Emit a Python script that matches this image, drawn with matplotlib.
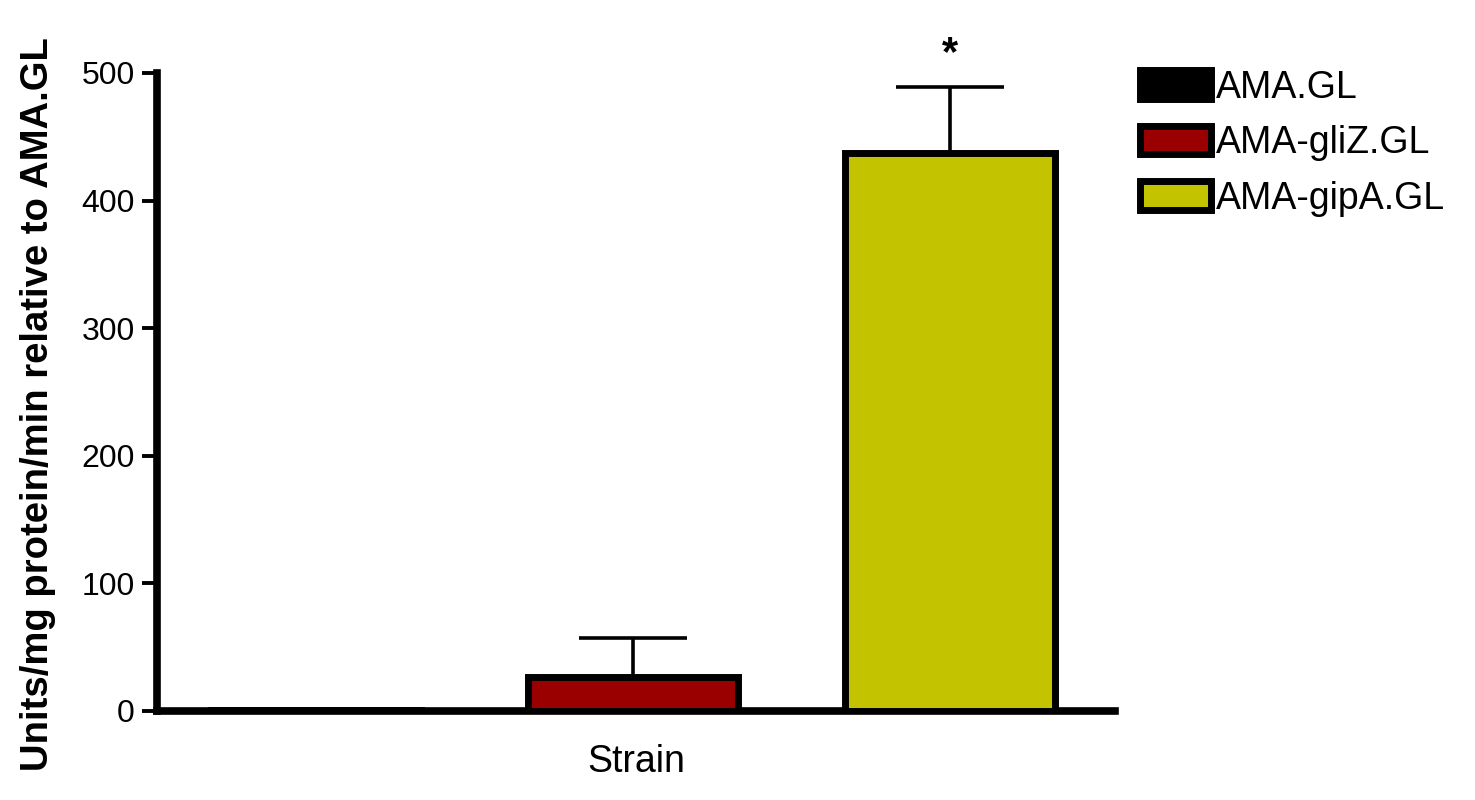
import numpy as np
import matplotlib.pyplot as plt
from matplotlib.patches import Patch

plt.rcParams['font.family'] = ['Liberation Sans', 'DejaVu Sans']

# dados
strains = ["AMA.GL", "AMA-gliZ.GL", "AMA-gipA.GL"]
values = [1, 27, 437]
errors = [0, 30, 52]
colors = ["#000000", "#9b0000", "#c3c300"]
signif = ["", "", "*"]

fig = plt.figure(figsize=(14.75, 8), dpi=100)
ax = fig.add_axes([0.1064, 0.11125, 0.6495, 0.7975])

x = np.arange(len(strains))
ax.bar(x, values, width=0.662, color=colors, edgecolor="black", linewidth=5, zorder=3)
for xi, v, e, s in zip(x, values, errors, signif):
    if e > 0:
        ax.errorbar(xi, v, yerr=[[0], [e]], fmt="none", ecolor="black",
                    elinewidth=2.6, capsize=39, capthick=2.6, zorder=2)
    if s:
        ax.text(xi, v + e + 10, s, ha="center", va="bottom", fontsize=30, fontweight="bold")

ax.set_xlim(-0.5, 2.52)
ax.set_ylim(0, 500)
ax.set_yticks(np.arange(0, 501, 100))
ax.set_xticks([])
ax.set_xlabel("Strain", fontsize=27, labelpad=24)
ax.set_ylabel("Units/mg protein/min relative to AMA.GL", fontsize=27.5, fontweight="bold")
ax.yaxis.set_label_coords(-0.105, 0.481)
ax.tick_params(axis="y", labelsize=23, width=2.8, length=11, pad=5, direction="out")
for side in ["top", "right"]:
    ax.spines[side].set_visible(False)
for side in ["left", "bottom"]:
    ax.spines[side].set_linewidth(5.5)

handles = [Patch(facecolor=c, edgecolor="black", linewidth=5) for c in colors]
fig.legend(handles, strains, loc="upper left", bbox_to_anchor=(0.773, 0.913),
           frameon=False, fontsize=27, handlelength=1.88, handleheight=0.8,
           handletextpad=0.15, labelspacing=0.52, borderpad=0, borderaxespad=0)

plt.savefig("out.png", dpi=100)
